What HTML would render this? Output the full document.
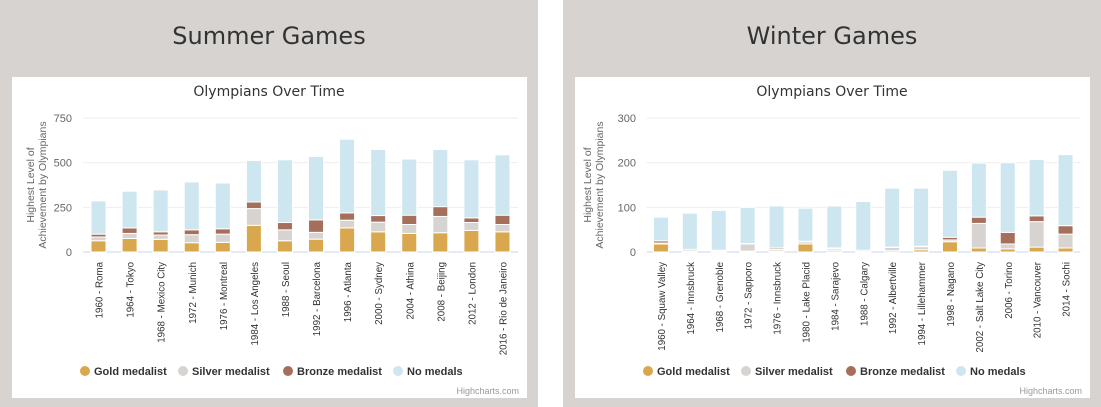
<!DOCTYPE html>
<html><head><meta charset="utf-8"><style>
body{margin:0;width:1101px;height:407px;background:#fff;position:relative;overflow:hidden;font-family:"Liberation Sans","DejaVu Sans",sans-serif}
.panel{position:absolute;top:0;width:538px;height:407px;background:#d6d3d0}
.ptitle{position:absolute;top:22px;width:100%;text-align:center;font-size:24px;color:#333;font-family:"DejaVu Sans","Liberation Sans",sans-serif}
.box{position:absolute;top:77px;left:12px;width:515px;height:321px;background:#fff}
svg{position:absolute;left:0;top:0}
</style></head><body>
<div class="panel" style="left:0">
 <div class="ptitle">Summer Games</div>
 <div class="box" id="boxS"></div>
</div>
<div class="panel" style="left:563px">
 <div class="ptitle">Winter Games</div>
 <div class="box" id="boxW"></div>
</div>
<script>
const summerCats=["1960 - Roma","1964 - Tokyo","1968 - Mexico City","1972 - Munich","1976 - Montreal","1984 - Los Angeles","1988 - Seoul","1992 - Barcelona","1996 - Atlanta","2000 - Sydney","2004 - Athina","2008 - Beijing","2012 - London","2016 - Rio de Janeiro"];
const summerGold=[63,76,71,52,54,149,63,72,135,113,104,108,121,113];
const summerSilver=[21,28,24,45,46,94,61,38,43,54,50,91,44,41];
const summerBronze=[16,31,18,27,30,37,41,70,41,37,52,55,26,52];
const summerNone=[186,205,234,268,256,232,351,355,412,370,314,320,325,338];
const summerTicks=[0,250,500,750];
const winterCats=["1960 - Squaw Valley","1964 - Innsbruck","1968 - Grenoble","1972 - Sapporo","1976 - Innsbruck","1980 - Lake Placid","1984 - Sarajevo","1988 - Calgary","1992 - Albertville","1994 - Lillehammer","1998 - Nagano","2002 - Salt Lake City","2006 - Torino","2010 - Vancouver","2014 - Sochi"];
const winterGold=[18,1,1,2,2,18,3,1,3,5,23,9,7,11,9];
const winterSilver=[2,2,2,16,4,5,4,3,7,7,4,55,11,57,31];
const winterBronze=[5,3,1,1,3,1,2,0,1,1,6,14,26,13,19];
const winterNone=[53,81,89,81,94,74,94,109,132,130,150,121,156,126,159];
const winterTicks=[0,100,200,300];
const colors=["#d9a84e","#d7d3d0","#a56f5b","#cde6ef"];
const NS="http://www.w3.org/2000/svg";
function el(t,a,p){const e=document.createElementNS(NS,t);for(const k in a)e.setAttribute(k,a[k]);p.appendChild(e);return e;}
function build(boxId,cats,series,ticks,x0,x1,yAxX,yTitleX,legX){
 const box=document.getElementById(boxId);
 const s=el('svg',{width:515,height:321},box);
 const y0=175,yTop=41,max=ticks[ticks.length-1];
 const Y=v=>y0-(v/max)*(y0-yTop);
 const band=(x1-x0)/cats.length;
 const X=i=>x0+band*(i+0.5);
 const t=el('text',{x:257,y:19,'text-anchor':'middle','font-size':14,fill:'#333','font-family':'DejaVu Sans, sans-serif'},s);t.textContent='Olympians Over Time';
 
 
 ticks.forEach(v=>{
  const g=el('line',{x1:x0,x2:x1,y1:Y(v),y2:Y(v),stroke:v?'#eeeeee':'#ccd6eb','stroke-width':1},s);
  
  
  const l=el('text',{x:yAxX,y:Y(v)+4,'text-anchor':'end','font-size':11,fill:'#666'},s);l.textContent=v;
  
  
 });
 const yt=el('text',{transform:`translate(${yTitleX},${(y0+yTop)/2}) rotate(-90)`,'text-anchor':'middle','font-size':10.5,fill:'#666'},s);
 
 
 const a=el('tspan',{x:0,dy:-6},yt);a.textContent='Highest Level of';
 const b=el('tspan',{x:0,dy:12},yt);b.textContent='Achievement by Olympians';
 const names=['gold','silver','bronze','none'];
 cats.forEach((c,i)=>{
  let acc=0;
  series.forEach((ser,k)=>{
   const v=ser[i];const top=Y(acc+v),bot=Y(acc);acc+=v;
   const r=el('rect',{x:X(i)-7.5,y:top,width:15,height:Math.max(0,bot-top),fill:colors[k],stroke:'#fff','stroke-width':1},s);
   
   
  });
  const l=el('text',{transform:`translate(${X(i)+4},${y0+10}) rotate(-90) scale(0.93,1)`,'text-anchor':'end','font-size':10.5,fill:'#333'},s);l.textContent=c;
  
  
 });
 const leg=[['Gold medalist',0],['Silver medalist',98],['Bronze medalist',203],['No medals',313]];
 leg.forEach((L,k)=>{
  const g=el('g',{},s);
  
  
  el('circle',{cx:legX+L[1],cy:294,r:5,fill:colors[k]},g);
  const tx=el('text',{x:legX+L[1]+9,y:298,'font-size':11,'font-weight':'bold',fill:'#333'},g);tx.textContent=L[0];
 });
 const h=el('text',{x:507,y:317,'text-anchor':'end','font-size':9,fill:'#999'},s);h.textContent='Highcharts.com';
 
 
}
build('boxS',summerCats,[summerGold,summerSilver,summerBronze,summerNone],summerTicks,71,506,60,28,73);
build('boxW',winterCats,[winterGold,winterSilver,winterBronze,winterNone],winterTicks,71.5,505,61,22,73);
</script>
</body></html>
